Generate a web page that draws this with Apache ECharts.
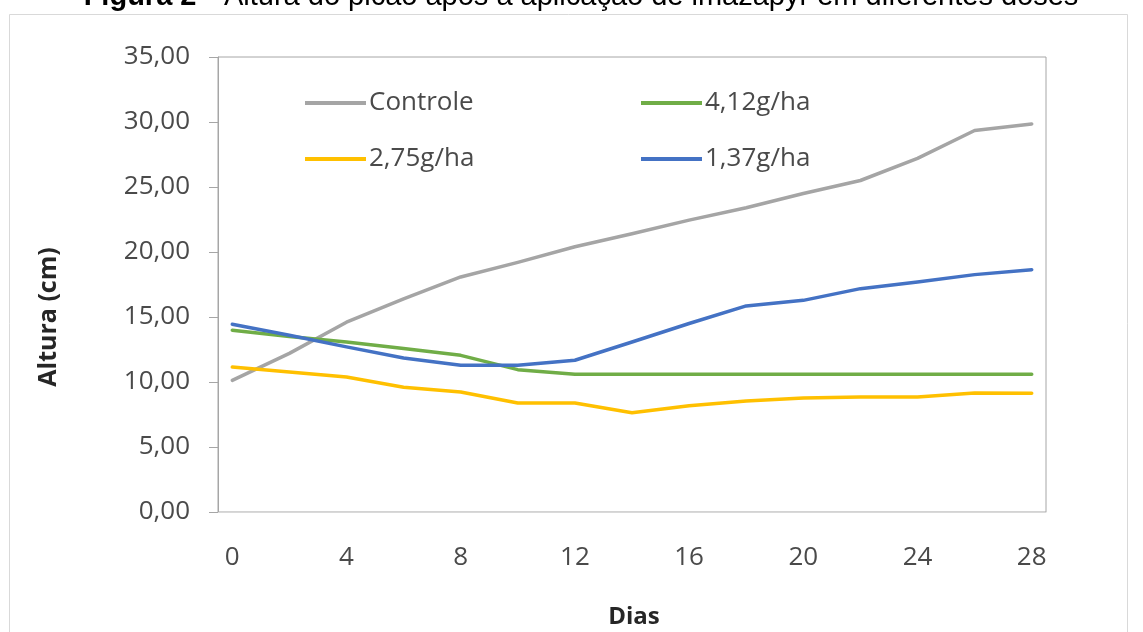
<!DOCTYPE html>
<html>
<head>
<meta charset="utf-8">
<script src="https://cdn.jsdelivr.net/npm/echarts@6/dist/echarts.min.js"></script>
<style>
  html, body { margin: 0; padding: 0; background: #ffffff; }
  #chart { width: 1143px; height: 632px; }
</style>
</head>
<body>
<div id="chart"></div>
<script>
// Days after application (measured every 2 days)
const days = [0, 2, 4, 6, 8, 10, 12, 14, 16, 18, 20, 22, 24, 26, 28];
// Plant height (cm) per treatment
const controle = [10.13, 12.2, 14.6, 16.4, 18.08, 19.2, 20.4, 21.4, 22.45, 23.4, 24.5, 25.5, 27.2, 29.35, 29.85];
const dose412  = [13.98, 13.5, 13.08, 12.57, 12.05, 10.95, 10.59, 10.59, 10.59, 10.59, 10.59, 10.59, 10.59, 10.59, 10.59];
const dose275  = [11.15, 10.77, 10.38, 9.6, 9.23, 8.38, 8.38, 7.64, 8.17, 8.54, 8.77, 8.85, 8.85, 9.15, 9.13];
const dose137  = [14.44, 13.6, 12.7, 11.85, 11.28, 11.28, 11.67, 13.08, 14.5, 15.85, 16.28, 17.18, 17.7, 18.26, 18.64];
// Axis tick labels
const xTicks = [0, 4, 8, 12, 16, 20, 24, 28];
const seriesNames = ['Controle', '4,12g/ha', '2,75g/ha', '1,37g/ha'];
const seriesColors = ['#a5a5a5', '#70ad47', '#ffc000', '#4472c4'];

const FONT = '"Open Sans", "Noto Sans", sans-serif';
const LABEL_COLOR = '#4a4a4a';

const pairs = vals => days.map((d, i) => [d, vals[i]]);
const allValues = [controle, dose412, dose275, dose137];

const chart = echarts.init(document.getElementById('chart'), null, { renderer: 'canvas' });

const legendPos = [
  { left: 300, top: 85 },
  { left: 636, top: 85 },
  { left: 300, top: 141 },
  { left: 636, top: 141 }
];

const option = {
  backgroundColor: '#ffffff',
  animation: false,
  grid: {
    left: 218, right: 97, top: 57, bottom: 120,
    show: true, borderColor: '#a6a6a6', borderWidth: 1, backgroundColor: 'transparent'
  },
  legend: seriesNames.map((n, i) => ({
    data: [n],
    left: legendPos[i].left,
    top: legendPos[i].top,
    icon: 'rect',
    itemWidth: 61,
    itemHeight: 4,
    textStyle: { fontFamily: FONT, fontSize: 26, color: LABEL_COLOR, padding: [0, 0, 0, -2] },
    selectedMode: false
  })),
  xAxis: {
    type: 'value',
    min: -0.5,
    max: 28.5,
    axisLine: { show: true, onZero: false, lineStyle: { color: '#d9d9d9', width: 1 } },
    axisTick: { show: false },
    splitLine: { show: false },
    axisLabel: {
      customValues: xTicks,
      margin: 33,
      fontFamily: FONT, fontSize: 26, color: LABEL_COLOR
    }
  },
  yAxis: {
    type: 'value',
    min: 0,
    max: 35,
    interval: 5,
    axisLine: { show: true, onZero: false, lineStyle: { color: '#a6a6a6', width: 1 } },
    axisTick: { show: true, length: 9, lineStyle: { color: '#a6a6a6' } },
    splitLine: { show: false },
    axisLabel: {
      margin: 28,
      fontFamily: FONT, fontSize: 26, color: LABEL_COLOR,
      formatter: v => v.toFixed(2).replace('.', ',')
    }
  },
  series: seriesNames.map((n, i) => ({
    name: n,
    type: 'line',
    data: pairs(allValues[i]),
    showSymbol: false,
    symbol: 'none',
    color: seriesColors[i],
    lineStyle: { width: 3.5, color: seriesColors[i], cap: 'round', join: 'round' }
  })),
  graphic: [
    {
      type: 'rect',
      silent: true,
      z: -10,
      shape: { x: 9.5, y: 14.5, width: 1118, height: 640 },
      style: { fill: 'none', stroke: '#d9d9d9', lineWidth: 1 }
    },
    {
      type: 'text',
      silent: true,
      x: 581, y: -3,
      style: {
        text: '{b|Figura 2} {n|– Altura do picão após a aplicação de imazapyr em diferentes doses}',
        align: 'center',
        verticalAlign: 'middle',
        rich: {
          b: { fontFamily: '"Liberation Sans", Arial, sans-serif', fontWeight: 'bold', fontSize: 29, fill: '#000000' },
          n: { fontFamily: '"Liberation Sans", Arial, sans-serif', fontSize: 29, fill: '#000000' }
        }
      }
    },
    {
      type: 'text',
      silent: true,
      x: 49, y: 317,
      rotation: Math.PI / 2,
      style: {
        text: 'Altura (cm)',
        align: 'center', verticalAlign: 'middle',
        fontFamily: FONT, fontWeight: 'bold', fontSize: 25, fill: '#262626'
      }
    },
    {
      type: 'text',
      silent: true,
      x: 634, y: 617,
      style: {
        text: 'Dias',
        align: 'center', verticalAlign: 'middle',
        fontFamily: FONT, fontWeight: 'bold', fontSize: 24, fill: '#262626'
      }
    }
  ]
};

chart.setOption(option);
</script>
</body>
</html>
